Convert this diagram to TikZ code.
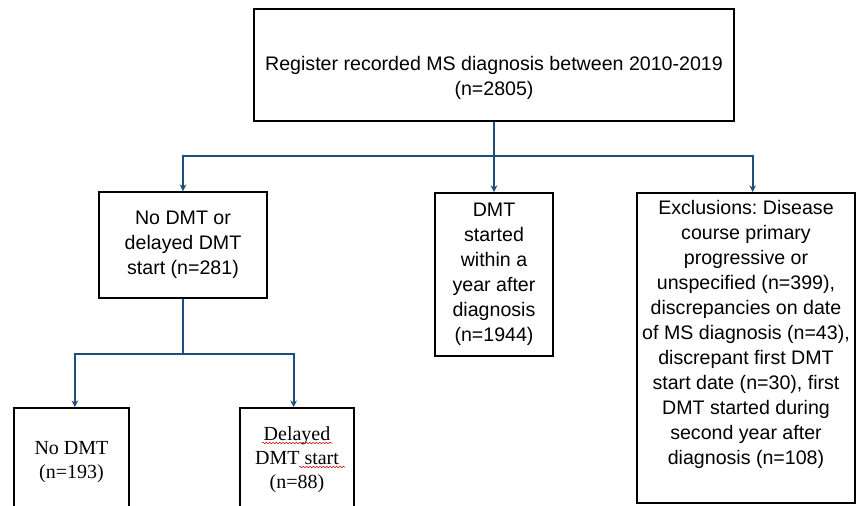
\documentclass[tikz,border=0pt]{standalone}
\usepackage{fontspec}
\setmainfont{Liberation Sans}
\newfontfamily\bodyserif{Liberation Serif}
\usetikzlibrary{arrows.meta,decorations.pathmorphing}
\frenchspacing

\definecolor{linkblue}{RGB}{31,78,121}
\newcommand{\flowsize}{\fontsize{14.7pt}{18.75pt}\selectfont}
\newcommand{\serifsize}{\bodyserif\fontsize{15pt}{18pt}\selectfont}

\tikzset{
  box/.style={draw=black, line width=1.4pt, align=center, font=\flowsize},
  link/.style={draw=linkblue, line width=1.5pt},
  flow/.style={link, -{Stealth[length=5pt,width=5pt]}},
  spellwave/.style={draw=red!80!black, line width=0.4pt, decorate,
    decoration={snake, amplitude=0.6pt, segment length=2.5pt}},
}

\begin{document}
\begin{tikzpicture}[x=0.75pt,y=-0.75pt]
  \path[use as bounding box, clip] (0,0) rectangle (856,506);

  % top level
  \node[box, minimum width=360pt, minimum height=84pt] (reg) at (494,65) {};
  \node[font=\flowsize, align=center] (regtext) at ([yshift=-10pt]reg.center)
    {Register recorded MS diagnosis between 2010-2019\\(n=2805)};

  % second level
  \node[box, minimum width=126pt, minimum height=79.5pt] (delay) at (183,245)
    {No DMT or\\delayed DMT\\start (n=281)};
  \node[box, minimum width=88.5pt, minimum height=122.25pt] (within) at (494,274.5)
    {DMT\\started\\within a\\year after\\diagnosis\\(n=1944)};
  \node[box, minimum width=163.5pt, minimum height=232.5pt] (excl) at (746,348) {};
  \node[font=\flowsize, align=center] (excltext) at ([yshift=10pt]excl.center)
    {Exclusions: Disease\\course primary\\progressive or\\unspecified (n=399),\\discrepancies on date\\of MS diagnosis (n=43),\\discrepant first DMT\\start date (n=30), first\\DMT started during\\second year after\\diagnosis (n=108)};

  % third level, cut off by the page edge
  \node[box, font=\serifsize, minimum width=86.25pt, minimum height=81pt] (nodmt) at (71.5,462)
    {No DMT\\(n=193)};
  \node[box, font=\serifsize, minimum width=85.5pt, minimum height=78pt] (later) at (297,460)
    {Delayed\\DMT start\\(n=88)};
  \draw[spellwave] ([shift={(-35,-17)}]later.center) -- ([shift={(35,-17)}]later.center);
  \draw[spellwave] ([shift={(2,7)}]later.center) -- ([shift={(48,7)}]later.center);

  % connectors
  \draw[link] (reg.south) -- ++(0,34) coordinate (split);
  \draw[flow] (split) -| (delay.north);
  \draw[flow] (split) -- (within.north);
  \draw[flow] (split) -| ([xshift=5pt]excl.north);
  \draw[link] (delay.south) -- ++(0,55) coordinate (split2);
  \draw[flow] (split2) -| ([xshift=2.5pt]nodmt.north);
  \draw[flow] (split2) -| ([xshift=-2.5pt]later.north);
\end{tikzpicture}
\end{document}
